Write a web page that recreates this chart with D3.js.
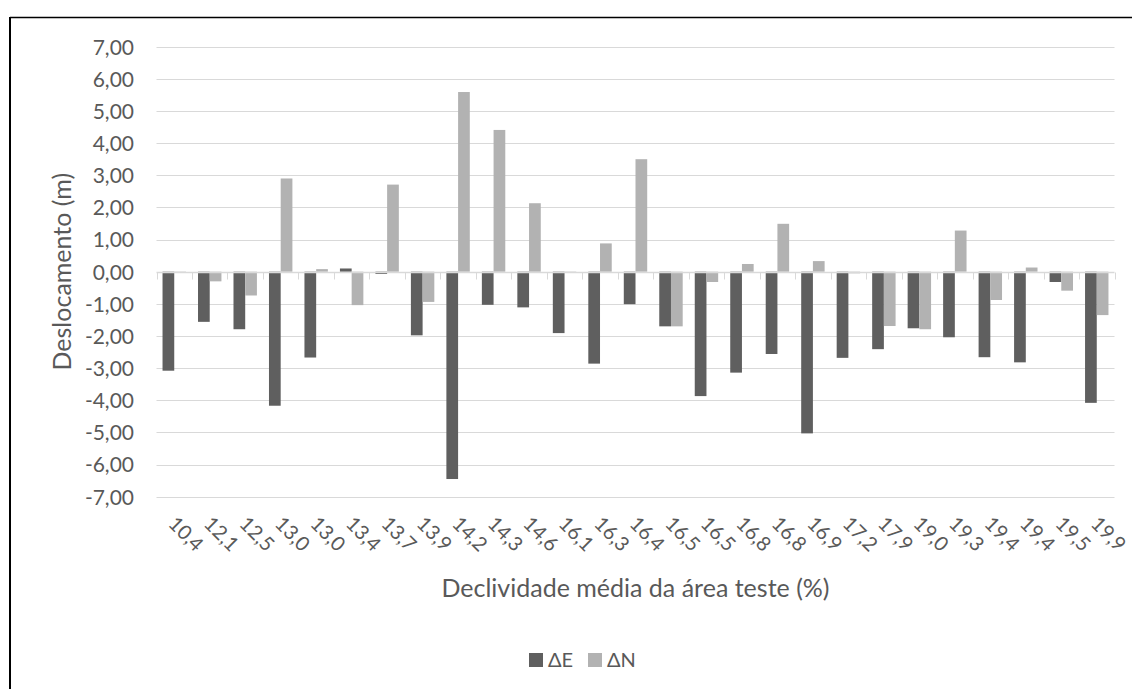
<!DOCTYPE html>
<html><head><meta charset="utf-8">
<script src="https://cdn.jsdelivr.net/npm/d3@7"></script>
<style>body{margin:0;background:#fff}svg{display:block}text{font-family:Lato,"Open Sans",sans-serif;fill:#595959}</style>
</head><body>
<svg id="c" width="1132" height="689"></svg>
<script>
const categories = ["10,4","12,1","12,5","13,0","13,0","13,4","13,7","13,9","14,2","14,3","14,6","16,1","16,3","16,4","16,5","16,5","16,8","16,8","16,9","17,2","17,9","19,0","19,3","19,4","19,4","19,5","19,9"];
const deltaE = [-3.08,-1.56,-1.79,-4.17,-2.67,0.10,-0.07,-1.98,-6.45,-1.03,-1.11,-1.91,-2.86,-1.01,-1.70,-3.87,-3.14,-2.56,-5.03,-2.68,-2.41,-1.76,-2.04,-2.66,-2.82,-0.32,-4.08];
const deltaN = [-0.02,-0.30,-0.74,2.90,0.08,-1.04,2.71,-0.94,5.59,4.41,2.13,-0.01,0.88,3.50,-1.70,-0.32,0.24,1.49,0.33,-0.05,-1.69,-1.79,1.28,-0.88,0.13,-0.59,-1.35];
const yTicks = [7,6,5,4,3,2,1,0,-1,-2,-3,-4,-5,-6,-7];
const seriesNames = ["ΔE","ΔN"];
const colors = ["#5f5f5f","#b2b2b2"];

const svg = d3.select("#c");
const L = 156.5, R = 1114.5, T = 46.7, B = 496.7;
const x = d3.scaleBand().domain(d3.range(categories.length)).range([L, R]).padding(0);
const inner = d3.scaleBand().domain([0,1]).range([0, x.bandwidth()]).paddingInner(0).paddingOuter(0.515);
const y = d3.scaleLinear().domain([-7, 7]).range([B, T]);
const fmt = v => d3.format(".2f")(v).replace(".", ",").replace("−","-");

// frame
svg.append("line").attr("x1",10).attr("x2",1132).attr("y1",17.5).attr("y2",17.5).attr("stroke","#000").attr("stroke-width",1.5);
svg.append("line").attr("x1",10).attr("x2",10).attr("y1",17).attr("y2",689).attr("stroke","#000").attr("stroke-width",2);

// gridlines
svg.append("g").selectAll("line").data(yTicks.filter(d=>d!==0)).join("line")
  .attr("x1",L).attr("x2",R).attr("y1",d=>Math.round(y(d))+0.5).attr("y2",d=>Math.round(y(d))+0.5)
  .attr("stroke","#d9d9d9").attr("stroke-width",1);

// y axis labels
const yAxis = d3.axisLeft(y).tickValues(yTicks).tickFormat(fmt).tickSize(0).tickPadding(0);
const gy = svg.append("g").attr("transform",`translate(134,0)`).call(yAxis);
gy.select(".domain").remove();
gy.selectAll("text").style("font-size","21px").style("font-family","Lato").attr("fill","#595959").attr("dy","0.35em");

// bars
const series = [deltaE, deltaN];
series.forEach((vals, si) => {
  svg.append("g").selectAll("rect").data(vals).join("rect")
    .attr("x",(d,i)=>x(i)+inner(si))
    .attr("width",inner.bandwidth())
    .attr("y",d=>y(Math.max(0,d)))
    .attr("height",d=>Math.abs(y(d)-y(0)))
    .attr("fill",colors[si]);
});

// zero axis with ticks
const zy = Math.round(y(0))+0.5;
svg.append("line").attr("x1",L).attr("x2",R).attr("y1",zy).attr("y2",zy).attr("stroke","#d9d9d9").attr("stroke-width",1.3);
svg.append("g").selectAll("line").data(d3.range(categories.length+1)).join("line")
  .attr("x1",i=>Math.round(L + i*x.step())+0.5).attr("x2",i=>Math.round(L + i*x.step())+0.5)
  .attr("y1",zy).attr("y2",zy+7).attr("stroke","#d9d9d9").attr("stroke-width",1);

// x labels
svg.append("g").selectAll("text").data(categories).join("text")
  .attr("transform",(d,i)=>`translate(${x(i)+x.bandwidth()/2-7},${525}) rotate(45)`)
  .attr("text-anchor","start").style("font-size","20px").text(d=>d);

// axis titles
svg.append("text").attr("x",(L+R)/2).attr("y",597).attr("text-anchor","middle").style("font-size","25px")
  .text("Declividade média da área teste (%)");
svg.append("text").attr("transform",`translate(71,${(T+B)/2}) rotate(-90)`).attr("text-anchor","middle").style("font-size","25px")
  .text("Deslocamento (m)");

// legend
const lg = svg.append("g");
const lx = [529, 588];
seriesNames.forEach((n,i)=>{
  lg.append("rect").attr("x",lx[i]).attr("y",653).attr("width",14).attr("height",14).attr("fill",colors[i]);
  lg.append("text").attr("x",lx[i]+19).attr("y",667).style("font-size","20px").text(n);
});
</script>
</body></html>
